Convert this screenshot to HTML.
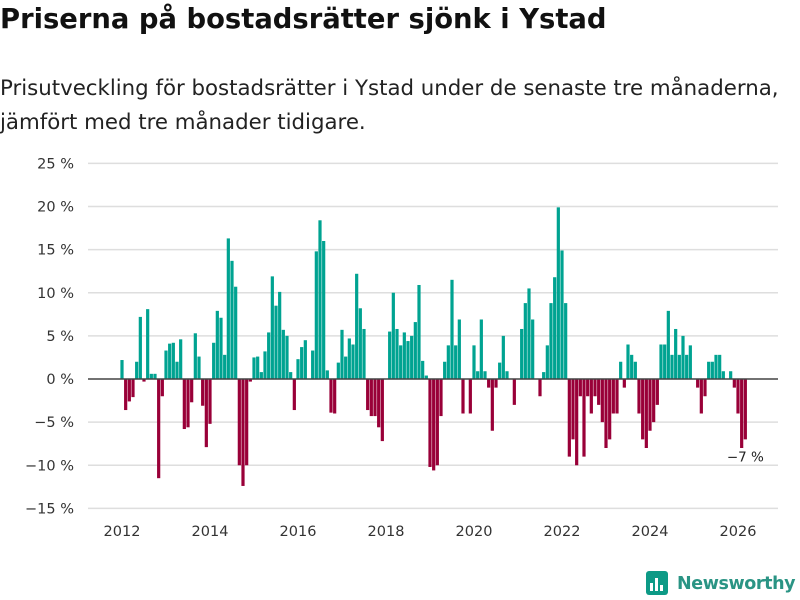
<!DOCTYPE html>
<html><head><meta charset="utf-8">
<style>
body{margin:0;background:#fff;width:800px;height:600px;overflow:hidden;font-family:"DejaVu Sans","Liberation Sans",sans-serif;}
#title{position:absolute;left:0;top:4px;font-size:27.4px;font-weight:bold;color:#111;}
#sub{position:absolute;left:0;top:72px;font-size:21.3px;line-height:34px;color:#222;}
svg{position:absolute;left:0;top:0;}
</style></head><body>
<div id="title">Priserna på bostadsrätter sjönk i Ystad</div>
<div id="sub">Prisutveckling för bostadsrätter i Ystad under de senaste tre månaderna,<br>jämfört med tre månader tidigare.</div>
<svg id="chart" width="800" height="600"></svg>
<script>
const values = [2.2,-3.6,-2.6,-2.1,2.0,7.2,-0.3,8.1,0.6,0.6,-11.5,-2.0,3.3,4.1,4.2,2.0,4.6,-5.8,-5.6,-2.7,5.3,2.6,-3.1,-7.9,-5.2,4.2,7.9,7.1,2.8,16.3,13.7,10.7,-10,-12.4,-10,-0.3,2.5,2.6,0.8,3.2,5.4,11.9,8.5,10.1,
5.7,5.0,0.8,-3.6,2.3,3.7,4.5,0,3.3,14.8,18.4,16,1.0,-3.9,-4.0,1.9,5.7,2.6,4.7,4.0,12.2,8.2,5.8,-3.6,-4.3,-4.3,-5.6,-7.2,0,5.5,10.0,5.8,3.9,5.4,4.4,5.0,6.6,10.9,2.1,0.4,-10.2,-10.6,-10,-4.3,
2.0,3.9,11.5,3.9,6.9,-4.0,0,-4.0,3.9,0.9,6.9,0.9,-1.0,-6.0,-1.0,1.9,5.0,0.9,0,-3.0,0,5.8,8.8,10.5,6.9,0,-2.0,0.8,3.9,8.8,11.8,19.9,14.9,8.8,-9.0,-7.0,-10.0,-2.0,-9.0,-2.0,-4.0,-2.0,-3.0,
-5.0,-8.0,-7.0,-4.0,-4.0,2.0,-1.0,4.0,2.8,2.0,-4.0,-7.0,-8.0,-6.0,-5.0,-3.0,4.0,4.0,7.9,2.8,5.8,2.8,5.0,2.8,3.9,0,-1.0,-4.0,-2.0,2.0,2.0,2.8,2.8,0.9,0,0.9,-1.0,-4.0,-8.0,-7.0];
const startYear = 2012;
const yTicks = [25,20,15,10,5,0,-5,-10,-15];
const xTicks = [2012,2014,2016,2018,2020,2022,2024,2026];
const lastLabel = "−7 %";

const NS="http://www.w3.org/2000/svg";
const svg=document.getElementById('chart');
const FF='DejaVu Sans, Liberation Sans, sans-serif';
const y=v=>379-v*8.625;
const x=t=>122+(t-2012)*44;
function el(tag,attrs,parent){const e=document.createElementNS(NS,tag);for(const k in attrs)e.setAttribute(k,attrs[k]);(parent||svg).appendChild(e);return e;}
yTicks.forEach(t=>{
  if(t!==0){const g=el('line',{x1:88,x2:778,y1:y(t),y2:y(t),stroke:'#dedede','stroke-width':1.5});
  
  }
  const tx=el('text',{x:74,y:y(t)+5,'text-anchor':'end','font-size':14.5,fill:'#333','font-family':FF});
  tx.textContent=(t<0?'−'+(-t):t)+' %';
  
  
});
values.forEach((v,i)=>{
  const cx=x(startYear+i/12);
  const r=el('rect',{x:cx-1.6,width:3.2,y:Math.min(y(v),y(0)),height:Math.abs(y(v)-y(0)),fill:v>=0?'#00a391':'#990038'});
  
  
});
const zl=el('line',{x1:88,x2:778,y1:y(0),y2:y(0),stroke:'#444','stroke-width':1.5});


xTicks.forEach(t=>{
  const tx=el('text',{x:x(t),y:536,'text-anchor':'middle','font-size':14.5,fill:'#333','font-family':FF});
  tx.textContent=t;
  
  
});
const li=values.length-1;
const lb=el('text',{x:x(startYear+li/12),y:y(values[li])+22,'text-anchor':'middle','font-size':13.5,fill:'#222','font-family':FF});
lb.textContent=lastLabel;


const lg=el('g',{});


el('rect',{x:646,y:571,width:22,height:24,rx:3,fill:'#0d9a86'},lg);
el('rect',{x:650,y:583,width:3,height:8,fill:'#fff'},lg);
el('rect',{x:655,y:578,width:3,height:13,fill:'#fff'},lg);
el('rect',{x:660,y:585,width:3,height:6,fill:'#fff'},lg);
const lt=el('text',{x:677,y:589,'font-size':17.5,'font-weight':'bold',fill:'#2a9484','font-family':FF,'letter-spacing':'-0.4'},lg);
lt.textContent='Newsworthy';
</script>
</body></html>
